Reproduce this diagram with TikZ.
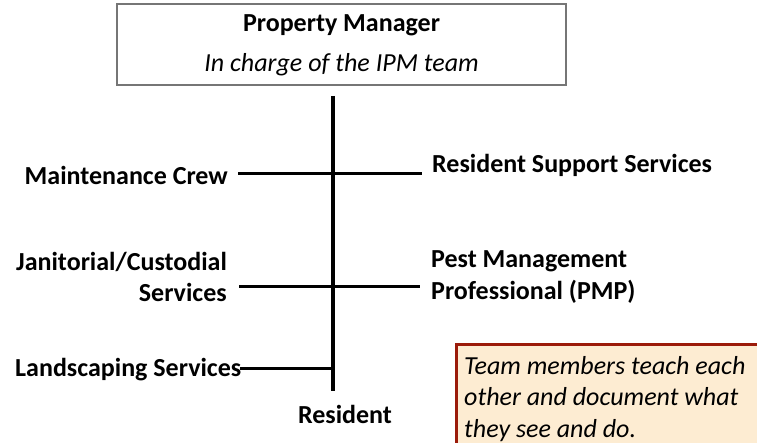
\documentclass[tikz,border=0pt]{standalone}
\usepackage{fontspec}
\setmainfont{Carlito}
\usetikzlibrary{positioning}

\definecolor{boxgray}{RGB}{118,118,118}
\definecolor{notefill}{RGB}{253,236,210}
\definecolor{noteline}{RGB}{155,27,10}

\begin{document}
\begin{tikzpicture}
  [x=1pt,y=-1pt,every node/.style={inner sep=0pt,font=\fontsize{26}{31.5}\selectfont}]
  \tikzstyle{member} = [font=\bfseries\fontsize{26}{31.5}\selectfont]
  \tikzstyle{link} = [line width=3pt]
  \useasboundingbox (0,0) rectangle (757,443);
  % manager box
  \node (pmbox) at (341.5,44.5) [draw=boxgray,line width=1.2pt,minimum width=449pt,minimum height=81pt] {};
  \node (pm)  at (341.5,25) [member] {Property Manager};
  \node (pmsub) at (341.5,65) [font=\itshape\fontsize{26}{31.5}\selectfont] {In charge of the IPM team};
  % team members
  \node (maint) at (228,175) [member,anchor=east] {Maintenance Crew};
  \node (jan)   at (227,277) [member,anchor=east,align=right] {Janitorial/Custodial\\Services};
  \node (land)  at (15,370)  [member,anchor=west] {Landscaping Services};
  \node (rss)   at (432,165) [member,anchor=west] {Resident Support Services};
  \node (pmp)   at (431,277) [member,anchor=west,align=left] {Pest Management\\Professional (PMP)};
  \node (res)   at (345,414) [member] {Resident};
  % trunk and branches
  \coordinate (vt) at (333,96);
  \coordinate (vb) at (333,391);
  \coordinate (ml) at (238,174);
  \coordinate (mr) at (422,174);
  \coordinate (jl) at (239,287);
  \coordinate (jr) at (420,287);
  \coordinate (ll) at (240,368);
  \coordinate (lr) at (333,368);
  \draw[link,line width=3.6pt] (vt) -- (vb);
  \foreach \source/\dest in {ml/mr,jl/jr,ll/lr}
    \draw[link] (\source) -- (\dest);
  % note
  \node (note) at (455,343) [anchor=north west,draw=noteline,fill=notefill,line width=2.5pt,minimum width=330pt,minimum height=120pt] {};
  \node (notetext) at (464,356) [anchor=north west,align=left,font=\itshape\fontsize{26}{31.5}\selectfont] {Team members teach each\\other and document what\\they see and do.};
\end{tikzpicture}
\end{document}
